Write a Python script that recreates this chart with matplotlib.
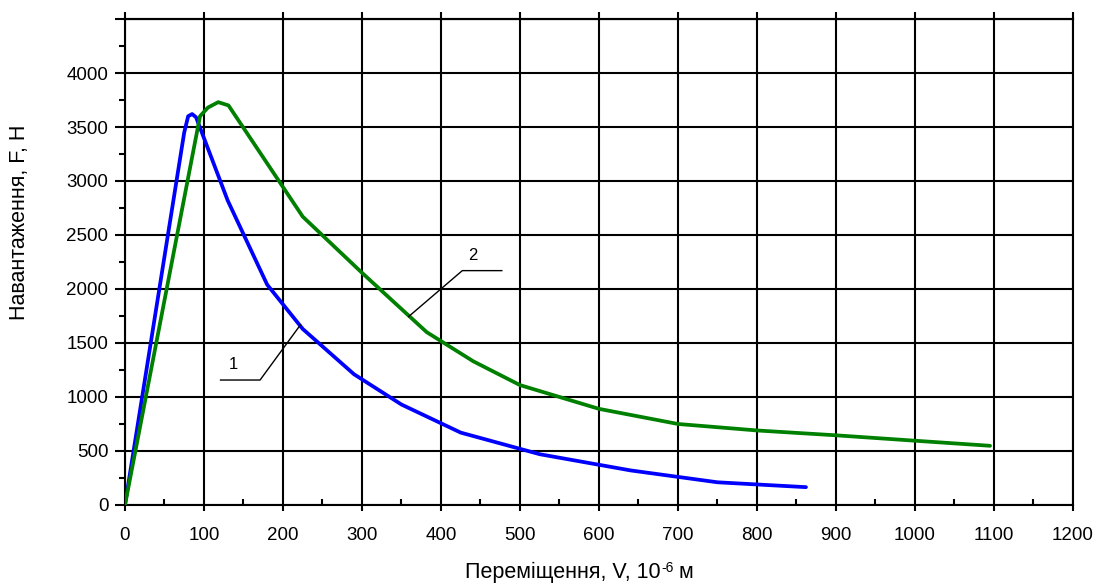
import numpy as np
import matplotlib
matplotlib.use("Agg")
import matplotlib.pyplot as plt
from matplotlib.ticker import MultipleLocator

plt.rcParams['font.family'] = ['Liberation Sans', 'DejaVu Sans']

# Curve 1 (blue)
v1 = [0, 75, 80, 85, 90, 130, 180, 225, 290, 350, 425, 525, 640, 750, 862]
f1 = [0, 3450, 3600, 3620, 3590, 2820, 2040, 1630, 1210, 930, 670, 470, 320, 210, 165]

# Curve 2 (green)
v2 = [0, 95, 105, 118, 131, 225, 300, 382, 441, 500, 600, 700, 800, 900, 1000, 1095]
f2 = [0, 3600, 3680, 3730, 3700, 2670, 2150, 1600, 1330, 1110, 890, 750, 690, 645, 595, 548]

xticks = list(range(0, 1201, 100))
yticks = list(range(0, 4001, 500))

fig = plt.figure(figsize=(11.03, 5.85), dpi=100)
ax = fig.add_axes([0.1133, 0.1368, 0.8595, 0.8307])

ax.plot(v1, f1, color='#0000ff', lw=2.7, solid_joinstyle='round', solid_capstyle='round', zorder=3)
ax.plot(v2, f2, color='#008000', lw=2.7, solid_joinstyle='round', solid_capstyle='round', zorder=3)

# leader lines for curve labels
ax.plot([121, 171, 222], [1157, 1157, 1667], color='black', lw=1, zorder=4)
ax.text(137, 1300, '1', fontsize=12, ha='center', va='center')
ax.plot([477, 427, 359], [2170, 2170, 1744], color='black', lw=1, zorder=4)
ax.text(440, 2310, '2', fontsize=12, ha='center', va='center')

ax.set_xlim(0, 1200)
ax.set_ylim(0, 4500)
ax.set_xticks(xticks)
ax.set_xticklabels([str(t) for t in xticks])
ax.set_yticks(yticks + [4500])
ax.set_yticklabels([str(t) for t in yticks] + [''])
ax.xaxis.set_minor_locator(MultipleLocator(50))
ax.yaxis.set_minor_locator(MultipleLocator(250))

ax.grid(True, which='major', color='black', lw=1.5)
for s in ax.spines.values():
    s.set_linewidth(1.5)

ax.tick_params(axis='x', which='major', direction='out', length=4, width=1.5,
               labelsize=13.5, pad=12)
ax.tick_params(axis='x', which='minor', direction='in', length=4, width=1.5)
ax.tick_params(axis='y', which='major', direction='out', length=7, width=1.5,
               labelsize=13.5, pad=5)
ax.tick_params(axis='y', which='minor', direction='out', length=4, width=1.5)

# gridlines poke out above the top frame
top = ax.secondary_xaxis('top')
top.set_xticks(xticks)
top.tick_params(direction='out', length=5, width=1.5, labeltop=False)
top.spines['top'].set_linewidth(1.5)

# axis titles
fig.text(0.018, 0.62, 'Навантаження, F, Н', fontsize=15.5, rotation=90,
         ha='center', va='center')

fig.canvas.draw()
r = fig.canvas.get_renderer()
main = fig.text(0, 0, 'Переміщення, V, 10', fontsize=15.5, va='baseline')
sup = fig.text(0, 0, '-6', fontsize=10, va='baseline')
tail = fig.text(0, 0, ' м', fontsize=15.5, va='baseline')
w_main = main.get_window_extent(r).width
w_sup = sup.get_window_extent(r).width
w_tail = tail.get_window_extent(r).width
total = w_main + w_sup + w_tail
x0 = 579 - total / 2
base = 585 - 578  # baseline in pixels from bottom
W, H = fig.bbox.width, fig.bbox.height
main.set_position((x0 / W, base / H))
sup.set_position(((x0 + w_main + 1) / W, (base + 6) / H))
tail.set_position(((x0 + w_main + w_sup) / W, base / H))

fig.savefig('out.png', dpi=100)
